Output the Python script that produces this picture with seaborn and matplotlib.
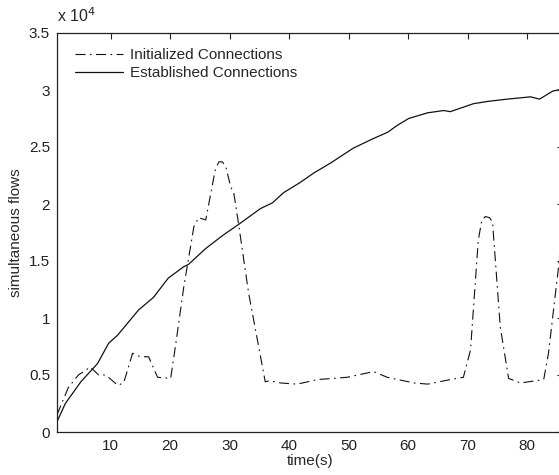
import numpy as np
import pandas as pd
import matplotlib
matplotlib.use("Agg")
import matplotlib.pyplot as plt
import matplotlib.ticker as mticker
import seaborn as sns

# data (flows in counts)
t_est = [1, 2.4, 5, 7.8, 9.7, 11.2, 14.7, 17.2, 19.7, 22.3, 23.1, 26, 29, 31.5,
         35.2, 37.2, 39.1, 41.9, 44.1, 47, 50.8, 54, 56.6, 58.2, 60.1, 63.3,
         66, 67.1, 71, 73.4, 76.7, 80.6, 82.1, 84.3, 86]
est = [900, 2500, 4400, 6000, 7800, 8500, 10700, 11800, 13500, 14500, 14700,
       16100, 17300, 18200, 19600, 20100, 21000, 21900, 22700, 23600, 24900,
       25700, 26300, 26900, 27500, 28000, 28200, 28100, 28800, 29000, 29200,
       29400, 29200, 29900, 30100]

t_init = [1, 2.9, 4.6, 6.6, 8.0, 9.2, 11.2, 12.2, 13.7, 15.0, 16.4, 17.9, 20.1,
          20.9, 22.3, 24.0, 24.8, 26.0, 27.6, 28.2, 28.8, 29.4, 30.2, 30.7,
          31.5, 33.2, 36.0, 36.7, 38.6, 41.4, 44.8, 49.8, 54.2, 56.5, 61.0,
          63.3, 67.1, 69.3, 70.5, 71.8, 72.4, 73.0, 73.7, 74.2, 75.5, 76.9,
          78.9, 82.8, 83.6, 85.3, 86]
init = [1500, 3900, 5000, 5700, 5000, 5000, 4100, 4300, 6900, 6600, 6600, 4800,
        4700, 7500, 12700, 18000, 18800, 18600, 23000, 23700, 23700, 23200,
        21500, 21000, 18300, 12200, 4400, 4500, 4300, 4200, 4600, 4800, 5300,
        4800, 4300, 4200, 4600, 4800, 7200, 16800, 18600, 18900, 18800, 18400,
        9200, 4700, 4300, 4600, 6900, 14500, 19000]

y_ticks = [0, 5000, 10000, 15000, 20000, 25000, 30000, 35000]
x_ticks = [10, 20, 30, 40, 50, 60, 70, 80]

sns.set_style("white")
plt.rcParams['font.family'] = ['Liberation Sans', 'DejaVu Sans']
plt.rcParams['font.size'] = 11

fig = plt.figure(figsize=(5.59, 4.75), dpi=100)
ax = fig.add_axes([57 / 559, 43 / 475, 505.75 / 559, 399 / 475])

df_init = pd.DataFrame({"time": t_init, "flows": init})
df_est = pd.DataFrame({"time": t_est, "flows": est})

sns.lineplot(data=df_init, x="time", y="flows", ax=ax, color="#111111",
             linewidth=0.8, linestyle=(0, (9, 4, 1.5, 4)),
             label="Initialized Connections")
sns.lineplot(data=df_est, x="time", y="flows", ax=ax, color="#111111",
             linewidth=0.9, label="Established Connections")

ax.set_xlim(1, 86)
ax.set_ylim(0, 35000)
ax.set_xticks(x_ticks)
ax.set_yticks(y_ticks)
ax.yaxis.set_major_formatter(mticker.FuncFormatter(lambda v, p: f"{v / 1e4:g}"))
ax.tick_params(direction="in", length=4, width=0.8, top=True, right=True,
               labelsize=11, colors="#222222", pad=5)
for s in ax.spines.values():
    s.set_color("#222222")
    s.set_linewidth(0.9)

ax.set_xlabel("time(s)", fontsize=11, labelpad=1)
ax.set_ylabel("simultaneous flows", fontsize=11, labelpad=4)
ax.annotate("x 10$^{4}$", xy=(0, 1), xycoords="axes fraction",
            xytext=(0, 6), textcoords="offset points", ha="left", va="bottom",
            fontsize=11.5)

ax.legend(loc="upper left", bbox_to_anchor=(3 / 505.75, 1), frameon=False,
          handlelength=3.1, handletextpad=0.45, labelspacing=0.25,
          borderaxespad=0.6, fontsize=11)

fig.savefig("out.png", dpi=100)
